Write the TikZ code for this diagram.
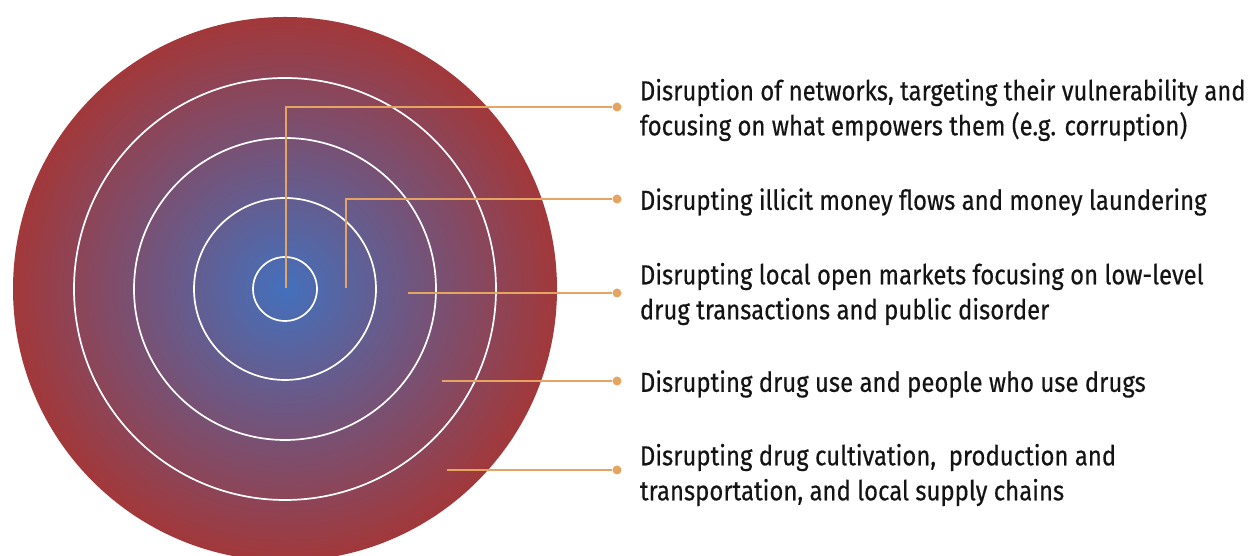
\documentclass[tikz,border=0pt]{standalone}
\usepackage{fontspec}
\setmainfont[FakeStretch=0.87,FakeBold=0.4]{Fira Sans}
\usetikzlibrary{positioning}
\definecolor{coreblue}{HTML}{4470BC}
\definecolor{edgered}{HTML}{A2383A}
\definecolor{leadorange}{HTML}{E6A462}
\definecolor{inktext}{HTML}{141414}
\begin{document}
\begin{tikzpicture}[x=1bp,y=1bp,node distance=18bp,
    ring/.style={circle,draw=white,line width=1.7bp,inner sep=0pt,minimum size=#1},
    lead/.style={draw=leadorange,line width=1.6bp},
    dot/.style={circle,fill=leadorange,inner sep=0pt,minimum size=9bp},
    label text/.style={inner sep=0pt,align=left,text=inktext,yshift=-3bp,
        font=\fontsize{27.5bp}{35bp}\selectfont}]
    \clip (0,0) rectangle (1250,556);

    % target
    \node[circle,inner sep=0pt,minimum size=544bp,shading=radial,
        inner color=coreblue,outer color=edgered] (target) at (285,267) {};
    \node[ring=422bp] (r1) at (target.center) {};
    \node[ring=302bp] (r2) at (target.center) {};
    \node[ring=182bp] (r3) at (target.center) {};
    \node[ring=64bp]  (r4) at (target.center) {};

    % start points
    \coordinate (s1) at (286,268);
    \coordinate (s2) at (346,268);
    \coordinate (s3) at (408,263);
    \coordinate (s4) at (442,175);
    \coordinate (s5) at (447,86);

    % dots
    \node[dot] (d1) at (617,449) {};
    \node[dot] (d2) at (617,357) {};
    \node[dot] (d3) at (617,263) {};
    \node[dot] (d4) at (617,175) {};
    \node[dot] (d5) at (617,86) {};

    \node[label text] (l1) [right=of d1] {Disruption of networks, targeting their vulnerability and\\focusing on what empowers them (e.g. corruption)};
    \node[label text] (l2) [right=of d2] {Disrupting illicit money flows and money laundering};
    \node[label text] (l3) [right=of d3,yshift=2bp] {Disrupting local open markets focusing on low-level\\drug transactions and public disorder};
    \node[label text] (l4) [right=of d4] {Disrupting drug use and people who use drugs};
    \node[label text] (l5) [right=of d5,yshift=-2bp] {Disrupting drug cultivation,~ production and\\transportation, and local supply chains};

    \draw[lead] (s1) |- (d1);
    \draw[lead] (s2) |- (d2);
    \draw[lead] (s3) -- (d3);
    \draw[lead] (s4) -- (d4);
    \draw[lead] (s5) -- (d5);
\end{tikzpicture}
\end{document}
